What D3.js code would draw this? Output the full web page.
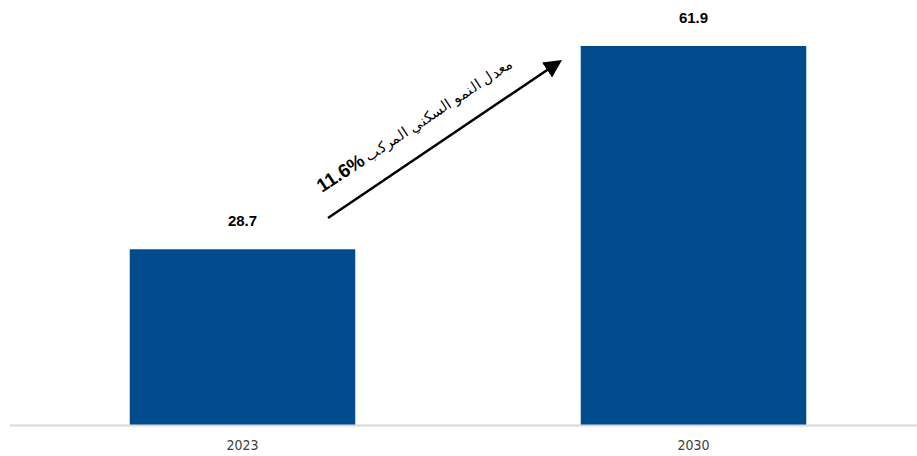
<!DOCTYPE html>
<html><head><meta charset="utf-8">
<script src="https://cdn.jsdelivr.net/npm/d3@7"></script>
<style>body{margin:0;background:#fff}</style>
</head><body>
<svg id="c" width="917" height="456"></svg>
<script>
const categories = ["2023", "2030"];
const values = [28.7, 61.9];
const cagrLabel = "11.6%";
const cagrText = "معدل النمو السكني المركب";

const svg = d3.select("#c");
const baseY = 425;
const x = d3.scaleBand().domain(categories).range([17, 919]).paddingInner(0.5).paddingOuter(0.25);
const y = d3.scaleLinear().domain([0, 61.9]).range([baseY, 46]);

svg.selectAll("rect.bar").data(values).enter().append("rect")
  .attr("class", "bar")
  .attr("x", (d, i) => x(categories[i]))
  .attr("width", x.bandwidth())
  .attr("y", d => y(d))
  .attr("height", d => baseY - y(d))
  .attr("fill", "#004B8C");

svg.append("line").attr("x1", 10).attr("x2", 917).attr("y1", baseY + 0.5).attr("y2", baseY + 0.5)
  .attr("stroke", "#d9d9d9").attr("stroke-width", 2);

svg.selectAll("text.val").data(values).enter().append("text")
  .attr("class", "val")
  .attr("x", (d, i) => x(categories[i]) + x.bandwidth() / 2)
  .attr("y", d => y(d) - 23)
  .attr("text-anchor", "middle")
  .attr("font-family", "Liberation Sans, Arial, sans-serif")
  .attr("font-weight", "bold")
  .attr("font-size", 15)
  .attr("fill", "#000")
  .text(d => d.toFixed(1));

const xAxis = d3.axisBottom(x).tickSize(0).tickPadding(0);
const ax = svg.append("g").attr("transform", `translate(0,${baseY + 15})`).call(xAxis);
ax.select(".domain").remove();
ax.selectAll("text")
  .attr("font-family", "DejaVu Sans Condensed, Liberation Sans Narrow, sans-serif")
  .attr("font-size", 14)
  .attr("fill", "#404040");

// arrow
const defs = svg.append("defs");
defs.append("marker").attr("id", "ah").attr("viewBox", "0 0 10 10")
  .attr("refX", 8).attr("refY", 5)
  .attr("orient", "auto").attr("markerUnits", "userSpaceOnUse")
  .attr("markerWidth", 18).attr("markerHeight", 18)
  .append("path").attr("d", "M0,0 L10,5 L0,10 Z").attr("fill", "#000");

svg.append("line").attr("x1", 328).attr("y1", 218).attr("x2", 559).attr("y2", 62)
  .attr("stroke", "#000").attr("stroke-width", 2.5).attr("marker-end", "url(#ah)");

const t = svg.append("text")
  .attr("transform", "translate(322,193) rotate(-33.5)")
  .attr("font-family", "Liberation Sans, Arial, sans-serif")
  .attr("fill", "#000");
t.append("tspan").attr("font-weight", "bold").attr("font-size", 19).text(cagrLabel);
t.append("tspan").attr("font-size", 14.5).attr("dx", 4).text(cagrText);
</script>
</body></html>
